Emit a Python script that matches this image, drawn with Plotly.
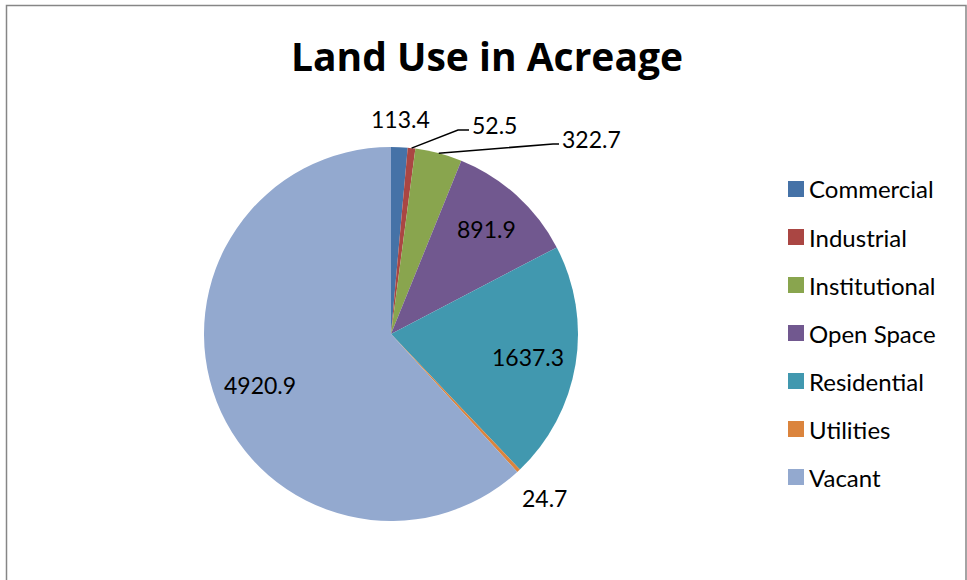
import math
import plotly.graph_objects as go

# ---- data -------------------------------------------------------------
categories = ["Commercial", "Industrial", "Institutional", "Open Space",
              "Residential", "Utilities", "Vacant"]
acreage = [113.4, 52.5, 322.7, 891.9, 1637.3, 24.7, 4920.9]
colors = ["#4572A7", "#AA4643", "#89A54E", "#71588F",
          "#4198AF", "#DB843D", "#93A9CF"]
title_text = "Land Use in Acreage"

# ---- canvas / geometry (pixels) ----------------------------------------
W, H = 967, 580
CX, CY, R = 391, 334, 187          # pie centre and radius
FONT = "Lato, 'Open Sans', sans-serif"
TITLE_FONT = "'Open Sans', Lato, sans-serif"
LABEL_SIZE = 23
LEGEND_SIZE = 24


def px(x):
    return x / W


def py(y):
    return 1 - y / H


# label placement per slice
label_style = {
    "Commercial": {"mode": "plain", "k": 1.15},
    "Industrial": {"mode": "leader", "elbow": (458, 130), "end": 469},
    "Institutional": {"mode": "leader", "elbow": (553, 144), "end": 559},
    "Open Space": {"mode": "plain", "k": 0.76},
    "Residential": {"mode": "plain", "k": 0.74},
    "Utilities": {"mode": "plain", "k": 1.2},
    "Vacant": {"mode": "plain", "k": 0.75},
}

total = sum(acreage)
mid_angles = []
acc = 0.0
for v in acreage:
    mid_angles.append((acc + v / 2) / total * 2 * math.pi)
    acc += v

fig = go.Figure()
fig.add_trace(go.Pie(
    labels=categories,
    values=acreage,
    sort=False,
    direction="clockwise",
    rotation=0,
    marker=dict(colors=colors, line=dict(width=0)),
    textinfo="none",
    hoverinfo="label+value+percent",
    showlegend=False,
    domain=dict(x=[px(CX - R), px(CX + R)], y=[py(CY + R), py(CY - R)]),
))

annotations = []
shapes = []

# value labels
for name, val, ang in zip(categories, acreage, mid_angles):
    st = label_style[name]
    txt = f"{val:.1f}"
    if st["mode"] == "plain":
        k = st["k"]
        x = CX + R * k * math.sin(ang)
        y = CY - R * k * math.cos(ang)
        annotations.append(dict(
            x=px(x), y=py(y), xref="paper", yref="paper", text=txt,
            showarrow=False, xanchor="center", yanchor="middle",
            font=dict(family=FONT, size=LABEL_SIZE, color="#000000")))
    else:
        sx = CX + R * math.sin(ang)
        sy = CY - R * math.cos(ang)
        ex, ey = st["elbow"]
        shapes.append(dict(
            type="path", xref="paper", yref="paper",
            path=f"M {px(sx)} {py(sy)} L {px(ex)} {py(ey)} L {px(st['end'])} {py(ey)}",
            line=dict(color="#000000", width=1.5)))
        annotations.append(dict(
            x=px(st["end"] + 1), y=py(ey - 5), xref="paper", yref="paper",
            text=txt, showarrow=False, xanchor="left", yanchor="middle",
            font=dict(family=FONT, size=LABEL_SIZE, color="#000000")))

# legend built from the category / colour lists
LEG_X, LEG_Y0, LEG_DY, SQ = 788, 189, 48, 16
for i, (name, col) in enumerate(zip(categories, colors)):
    yc = LEG_Y0 + i * LEG_DY
    shapes.append(dict(
        type="rect", xref="paper", yref="paper",
        x0=px(LEG_X), x1=px(LEG_X + SQ), y0=py(yc - SQ / 2), y1=py(yc + SQ / 2),
        fillcolor=col, line=dict(width=0)))
    annotations.append(dict(
        x=px(LEG_X + SQ + 3), y=py(yc), xref="paper", yref="paper",
        text=name, showarrow=False, xanchor="left", yanchor="middle",
        font=dict(family=FONT, size=LEGEND_SIZE, color="#000000")))

# chart border
shapes.append(dict(
    type="rect", xref="paper", yref="paper",
    x0=px(6.5), x1=px(966), y0=py(H + 10), y1=py(5.5),
    line=dict(color="#868686", width=1.5), fillcolor="rgba(0,0,0,0)"))

fig.update_layout(
    width=W, height=H,
    margin=dict(l=0, r=0, t=0, b=0),
    paper_bgcolor="#FFFFFF",
    plot_bgcolor="#FFFFFF",
    title=dict(text=f"<b>{title_text}</b>", x=px(487), y=py(57),
               xanchor="center", yanchor="middle",
               font=dict(family=TITLE_FONT, size=39, color="#000000")),
    annotations=annotations,
    shapes=shapes,
)

fig.write_html("out.html")
